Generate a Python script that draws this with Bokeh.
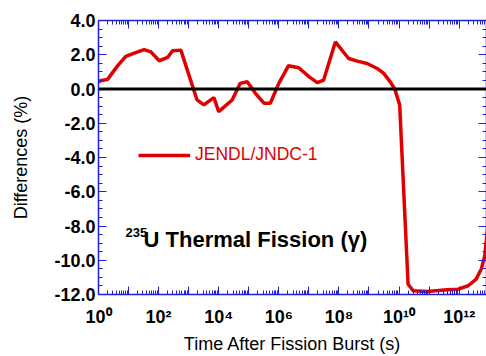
from bokeh.plotting import figure
from bokeh.models import LogAxis, LinearAxis, FixedTicker, PrintfTickFormatter, Span, Label, Range1d
from bokeh.embed import file_html
from bokeh.resources import INLINE

# ---- data ----
time_s = [1.0, 1.25, 2.0, 4.3, 8.1, 15.5, 33, 55, 105, 200, 290, 550,
          1900, 3200, 6900, 1.0e4, 2.8e4, 5.2e4, 8.9e4, 1.66e5, 3.2e5, 5.2e5,
          1.0e6, 2.1e6, 4.6e6, 1.0e7, 1.9e7, 3.1e7, 7.6e7, 2.1e8, 4.1e8, 8.7e8,
          1.86e9, 3.1e9, 5.1e9, 7.2e9, 1.05e10, 2.0e10, 2.95e10, 8.5e10, 4.0e11,
          9.3e11, 2.0e12, 3.7e12, 5.5e12, 7.1e12, 8.1e12, 1.0e13]
diff_pct = [0.42, 0.50, 0.56, 1.35, 1.90, 2.10, 2.30, 2.17, 1.65, 1.84, 2.23, 2.27,
            -0.64, -0.93, -0.50, -1.32, -0.64, 0.33, 0.42, -0.25, -0.83, -0.83,
            0.33, 1.36, 1.24, 0.72, 0.37, 0.52, 2.75, 1.78, 1.63, 1.49,
            1.20, 0.91, 0.42, 0.00, -0.93, -11.40, -11.78, -11.82, -11.72,
            -11.69, -11.49, -11.10, -10.50, -9.75, -8.78, -7.20]

series_name = "JENDL/JNDC-1"
x_major_ticks = [1e0, 1e1, 1e2, 1e3, 1e4, 1e5, 1e6, 1e7, 1e8, 1e9, 1e10, 1e11, 1e12, 1e13]
x_tick_labels = ["10\u2070", " ", "10\u00b2", " ", "10\u2074", " ", "10\u2076", " ", "10\u2078", " ",
                 "10\u00b9\u2070", " ", "10\u00b9\u00b2", " "]
y_major_ticks = [-12, -10, -8, -6, -4, -2, 0, 2, 4]
y_minor_ticks = [v / 2 for v in range(-24, 9)]
x_title = "Time After Fission Burst (s)"
y_title = "Differences (%)"
note_sup = "235"
note_main = "U Thermal Fission (\u03b3)"

BLUE = "#2020e0"
RED = "#e00000"
FONT = "Liberation Sans"

x_minor_ticks = [k * 10.0 ** n for n in range(0, 13) for k in range(2, 10)]

p = figure(width=486, height=356, x_axis_type="log",
           x_range=Range1d(1, 10 ** 12.91), y_range=Range1d(-12, 4),
           output_backend="svg", toolbar_location=None, min_border=None,
           min_border_left=98, min_border_right=0, min_border_top=20, min_border_bottom=10)
p.outline_line_color = None
p.xgrid.visible = False
p.ygrid.visible = False
p.background_fill_color = "white"

xticker = FixedTicker(ticks=x_major_ticks, minor_ticks=x_minor_ticks)
yticker = FixedTicker(ticks=y_major_ticks, minor_ticks=y_minor_ticks)


def style(ax):
    ax.axis_line_color = BLUE
    ax.axis_line_width = 1.5
    ax.major_tick_line_color = BLUE
    ax.minor_tick_line_color = BLUE
    ax.major_tick_in = 8
    ax.major_tick_out = 0
    ax.minor_tick_in = 4
    ax.minor_tick_out = 0


def hide_labels(ax, ticks):
    ax.major_label_overrides = {t: " " for t in ticks}
    ax.major_label_text_font_size = "1px"
    ax.major_label_text_alpha = 0
    ax.major_label_standoff = 0


xa = p.xaxis[0]
xa.ticker = xticker
style(xa)
xa.major_label_overrides = {t: lab for t, lab in zip(x_major_ticks, x_tick_labels)}
xa.major_label_text_font = FONT
xa.major_label_text_font_style = "bold"
xa.major_label_text_font_size = "18px"
xa.major_label_text_color = "black"
xa.major_label_standoff = 12
xa.axis_label = x_title
xa.axis_label_text_font = FONT
xa.axis_label_text_font_style = "normal"
xa.axis_label_text_font_size = "18px"
xa.axis_label_text_color = "black"
xa.axis_label_standoff = 4

ya = p.yaxis[0]
ya.ticker = yticker
style(ya)
ya.formatter = PrintfTickFormatter(format="%.1f")
ya.major_label_text_font = FONT
ya.major_label_text_font_style = "bold"
ya.major_label_text_font_size = "18px"
ya.major_label_text_color = "black"
ya.major_label_standoff = 3
ya.axis_label = y_title
ya.axis_label_text_font = FONT
ya.axis_label_text_font_style = "normal"
ya.axis_label_text_font_size = "18px"
ya.axis_label_text_color = "black"
ya.axis_label_standoff = 20

top = LogAxis(ticker=xticker)
style(top)
hide_labels(top, x_major_ticks)
p.add_layout(top, "above")

right = LinearAxis(ticker=yticker)
style(right)
hide_labels(right, y_major_ticks)
p.add_layout(right, "right")

p.add_layout(Span(location=0, dimension="width", line_color="black", line_width=3))

p.line(time_s, diff_pct, line_color=RED, line_width=3.5, legend_label=series_name)

lg = p.legend[0]
lg.location = (40, 129)
lg.padding = 0
lg.margin = 0
lg.border_line_color = None
lg.background_fill_alpha = 0
lg.glyph_width = 52
lg.label_standoff = 5
lg.label_text_color = RED
lg.label_text_font = FONT
lg.label_text_font_size = "17.5px"

p.add_layout(Label(x=7.9, y=-8.4, text=note_sup, text_font=FONT, text_font_style="bold",
                   text_font_size="13px", text_color="black", text_baseline="alphabetic"))
p.add_layout(Label(x=31.6, y=-8.8, text=note_main, text_font=FONT, text_font_style="bold",
                   text_font_size="22px", text_color="black", text_baseline="alphabetic"))

open("out.html", "w").write(file_html(p, INLINE))
